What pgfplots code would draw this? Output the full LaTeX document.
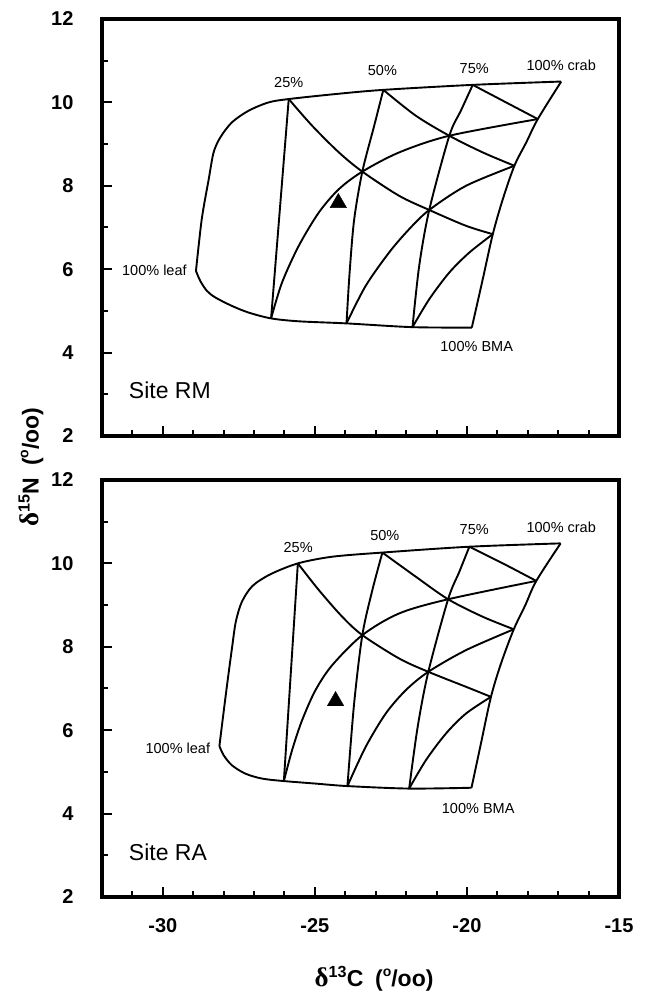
\documentclass[border=0pt]{standalone}
\usepackage{pgfplots}
\pgfplotsset{compat=1.18}
\usepackage{fontspec}
\setmainfont{Liberation Sans}
\newfontfamily\greekfont{Liberation Serif}

\pgfplotsset{
  panel/.style={
    width=517pt, height=417pt, scale only axis,
    xmin=-32, xmax=-15, ymin=2, ymax=12,
    xtick={-30,-25,-20,-15},
    minor xtick={-31,-29,-28,-27,-26,-24,-23,-22,-21,-19,-18,-17,-16},
    ytick={2,4,6,8,10,12}, minor ytick={3,5,7,9,11},
    xtick pos=bottom, ytick pos=left, tick align=inside,
    major tick length=10pt, minor tick length=6pt,
    tick style={black, line width=2pt},
    axis line style={black, line width=3.2pt},
    /pgf/number format/assume math mode=true,
    ticklabel style={font=\fontsize{20}{20}\selectfont\bfseries},
    yticklabel style={xshift=-25pt},
    xticklabel style={yshift=-18pt},
    clip=false,
  },
  mixline/.style={black, line width=1.9pt, smooth, tension=0.5, no markers},
}
\tikzset{lab/.style={font=\fontsize{14.5}{14.5}\selectfont}}

\begin{document}
\begin{tikzpicture}
\path[use as bounding box] (0pt,0pt) rectangle (645pt,992pt);

% ---------------- Site RM ----------------
\begin{axis}[panel, at={(102pt,556pt)}, anchor=south west, xticklabels={}]
\addplot[mixline] coordinates {(-28.91,5.96) (-28.72,7.20) (-28.49,8.16) (-28.33,8.80) (-28.11,9.16) (-27.73,9.52) (-27.18,9.80) (-26.52,10.00) (-25.86,10.08) (-24.32,10.20) (-22.75,10.30) (-19.81,10.42) (-16.90,10.50)};
\addplot[mixline] coordinates {(-28.91,5.96) (-28.77,5.72) (-28.55,5.48) (-28.27,5.32) (-27.73,5.12) (-27.18,4.96) (-26.44,4.82) (-25.53,4.75) (-23.96,4.70) (-21.79,4.61) (-19.84,4.60)};
\addplot[mixline] coordinates {(-16.90,10.50) (-17.67,9.60) (-18.05,9.04) (-18.44,8.48) (-18.82,7.68) (-19.15,6.84) (-19.48,5.76) (-19.84,4.60)};
\addplot[mixline] coordinates {(-25.86,10.08) (-26.44,4.82)};
\addplot[mixline] coordinates {(-22.75,10.30) (-23.05,9.44) (-23.44,8.34) (-23.71,7.18) (-23.86,5.90) (-23.96,4.70)};
\addplot[mixline] coordinates {(-19.81,10.42) (-20.20,9.80) (-20.58,9.20) (-21.24,7.42) (-21.57,6.08) (-21.79,4.61)};
\addplot[mixline] coordinates {(-26.44,4.82) (-26.08,5.68) (-25.53,6.56) (-24.87,7.36) (-24.21,7.92) (-23.44,8.34) (-22.23,8.80) (-20.58,9.20) (-17.67,9.60)};
\addplot[mixline] coordinates {(-23.96,4.70) (-23.33,5.60) (-22.56,6.40) (-21.90,6.96) (-21.24,7.42) (-20.03,8.00) (-18.44,8.48)};
\addplot[mixline] coordinates {(-21.79,4.61) (-21.24,5.28) (-20.58,5.92) (-19.92,6.40) (-19.15,6.84)};
\addplot[mixline] coordinates {(-25.86,10.08) (-25.09,9.44) (-24.21,8.80) (-23.44,8.34) (-22.23,7.76) (-21.24,7.42) (-20.03,7.04) (-19.15,6.84)};
\addplot[mixline] coordinates {(-22.75,10.30) (-21.68,9.68) (-20.58,9.20) (-19.48,8.80) (-18.44,8.48)};
\addplot[mixline] coordinates {(-19.81,10.42) (-18.82,10.04) (-17.67,9.60)};
\addplot[only marks, mark=triangle*, mark size=9.5pt, black] coordinates {(-24.23,7.59)};
\node[lab] at (axis cs:-25.86,10.48) {25\%};
\node[lab] at (axis cs:-22.78,10.76) {50\%};
\node[lab] at (axis cs:-19.76,10.82) {75\%};
\node[lab] at (axis cs:-16.90,10.88) {100\% crab};
\node[lab, anchor=east, inner sep=0pt] at (axis cs:-29.21,5.98) {100\% leaf};
\node[lab] at (axis cs:-19.68,4.14) {100\% BMA};
\node[font=\fontsize{23}{23}\selectfont, anchor=west, inner sep=0pt] at (axis cs:-31.12,3.10) {Site RM};
\end{axis}

% ---------------- Site RA ----------------
\begin{axis}[panel, at={(102pt,95pt)}, anchor=south west]
\addplot[mixline] coordinates {(-28.14,5.62) (-27.91,6.96) (-27.72,8.00) (-27.60,8.60) (-27.40,9.08) (-27.05,9.46) (-26.46,9.74) (-25.56,10.00) (-24.43,10.16) (-22.78,10.26) (-19.92,10.40) (-16.92,10.48)};
\addplot[mixline] coordinates {(-28.14,5.62) (-28.00,5.40) (-27.73,5.16) (-27.29,4.96) (-26.74,4.84) (-26.02,4.78) (-24.98,4.72) (-23.93,4.66) (-21.90,4.60) (-19.85,4.62)};
\addplot[mixline] coordinates {(-16.92,10.48) (-17.72,9.58) (-18.08,9.00) (-18.46,8.42) (-18.88,7.60) (-19.21,6.80) (-19.54,5.68) (-19.85,4.62)};
\addplot[mixline] coordinates {(-25.56,10.00) (-26.02,4.78)};
\addplot[mixline] coordinates {(-22.78,10.26) (-23.11,9.36) (-23.44,8.28) (-23.71,6.64) (-23.93,4.66)};
\addplot[mixline] coordinates {(-19.92,10.40) (-20.25,9.80) (-20.62,9.14) (-21.27,7.40) (-21.62,6.08) (-21.90,4.60)};
\addplot[mixline] coordinates {(-26.02,4.78) (-25.75,5.52) (-25.42,6.24) (-24.98,6.96) (-24.43,7.56) (-23.44,8.28) (-22.23,8.80) (-20.62,9.14) (-17.72,9.58)};
\addplot[mixline] coordinates {(-23.93,4.66) (-23.33,5.60) (-22.67,6.40) (-22.01,6.96) (-21.27,7.40) (-20.03,7.92) (-18.46,8.42)};
\addplot[mixline] coordinates {(-21.90,4.60) (-21.35,5.28) (-20.69,5.92) (-20.03,6.40) (-19.21,6.80)};
\addplot[mixline] coordinates {(-25.56,10.00) (-24.87,9.36) (-24.10,8.72) (-23.44,8.28) (-22.23,7.72) (-21.27,7.40) (-20.03,7.04) (-19.21,6.80)};
\addplot[mixline] coordinates {(-22.78,10.26) (-21.68,9.68) (-20.62,9.14) (-19.48,8.72) (-18.46,8.42)};
\addplot[mixline] coordinates {(-19.92,10.40) (-18.82,10.00) (-17.72,9.58)};
\addplot[only marks, mark=triangle*, mark size=9.5pt, black] coordinates {(-24.32,6.70)};
\node[lab] at (axis cs:-25.55,10.38) {25\%};
\node[lab] at (axis cs:-22.70,10.68) {50\%};
\node[lab] at (axis cs:-19.76,10.82) {75\%};
\node[lab] at (axis cs:-16.90,10.86) {100\% crab};
\node[lab, anchor=east, inner sep=0pt] at (axis cs:-28.44,5.56) {100\% leaf};
\node[lab] at (axis cs:-19.63,4.12) {100\% BMA};
\node[font=\fontsize{23}{23}\selectfont, anchor=west, inner sep=0pt] at (axis cs:-31.12,3.08) {Site RA};
\end{axis}

% axis titles
\node[font=\fontsize{23}{23}\selectfont\bfseries] at (374pt,13pt)
  {{\greekfont\fontsize{27}{27}\selectfont δ}\textsuperscript{13}C\,\,\,(\raisebox{0.45em}{\fontsize{14}{14}\selectfont o}/oo)};
\node[rotate=90, font=\fontsize{23}{23}\selectfont\bfseries] at (31pt,525pt)
  {{\greekfont\fontsize{27}{27}\selectfont δ}\textsuperscript{15}N\,\,\,(\raisebox{0.45em}{\fontsize{14}{14}\selectfont o}/oo)};
\end{tikzpicture}
\end{document}
